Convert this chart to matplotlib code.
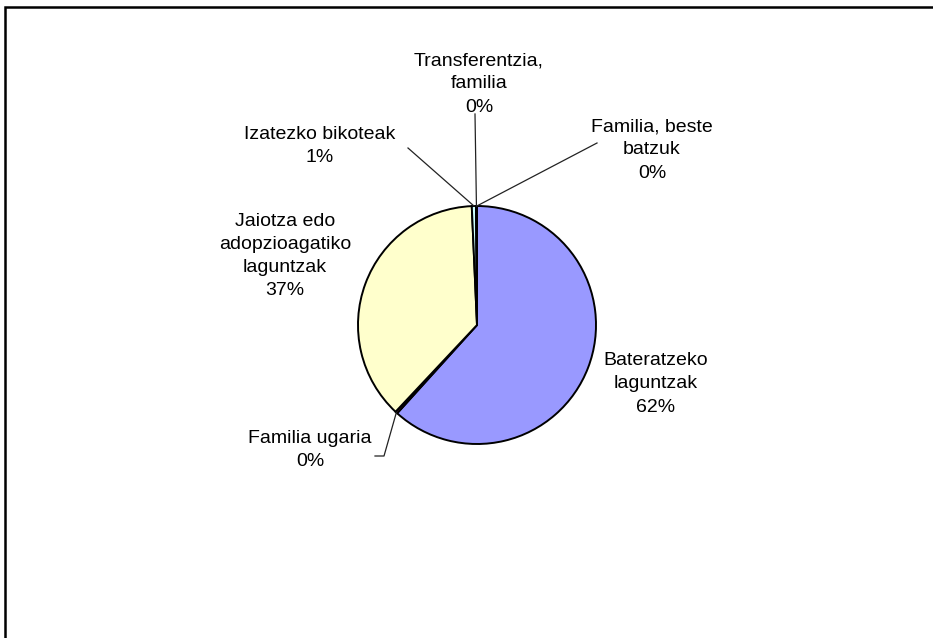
import numpy as np
import matplotlib
matplotlib.use("Agg")
import matplotlib.pyplot as plt
from matplotlib.patches import Rectangle

categories = ["Bateratzeko\nlaguntzak", "Familia ugaria", "Jaiotza edo\nadopzioagatiko\nlaguntzak",
              "Izatezko bikoteak", "Transferentzia,\nfamilia", "Familia, beste\nbatzuk"]
values = [61.7, 0.3, 37.3, 0.6, 0.05, 0.05]
colors = ["#9999FF", "#993366", "#FFFFCC", "#CCFFFF", "#660066", "#FF8080"]

plt.rcParams['font.family'] = ['Liberation Sans', 'DejaVu Sans']

W, H = 933, 638
fig = plt.figure(figsize=(W / 100, H / 100), dpi=100)
fig.patch.set_facecolor("white")

# outer frame (cut off on right and bottom)
fig.patches.append(Rectangle((5 / W, -0.1), 1.2, 1.1 - 7 / H, transform=fig.transFigure,
                             fill=False, edgecolor="black", linewidth=1.8))

cx, cy, R = 477, 325, 119
ax = fig.add_axes([(cx - R) / W, (H - cy - R) / H, 2 * R / W, 2 * R / H])
ax.axis("off")

wedges, _ = ax.pie(values, colors=colors, startangle=90, counterclock=False, radius=1,
                   wedgeprops=dict(edgecolor="black", linewidth=1.4))
ax.set_xlim(-1, 1)
ax.set_ylim(-1, 1)

def px(x, y):
    return ((x - cx) / R, (cy - y) / R)

total = sum(values)
pcts = ["%d%%" % round(v / total * 100) for v in values]

layout = [
    ((656, 384), None),
    ((310, 450), [(375, 456), (384, 456)]),
    ((285, 256), None),
    ((320, 146), [(408, 148)]),
    ((479, 84), [(475, 114)]),
    ((652, 150), [(597, 143)]),
]

for w, cat, pct, (ctr, leader) in zip(wedges, categories, pcts, layout):
    tx, ty = px(*ctr)
    ax.text(tx, ty, cat + "\n" + pct, ha="center", va="center", fontsize=14,
            linespacing=1.48, color="black", clip_on=False)
    if leader is not None:
        mid = np.deg2rad((w.theta1 + w.theta2) / 2)
        ex, ey = np.cos(mid), np.sin(mid)
        pts = [px(*p) for p in leader] + [(ex, ey)]
        ax.plot([p[0] for p in pts], [p[1] for p in pts], color="#222222", linewidth=0.9,
                clip_on=False)

fig.savefig("out.png", dpi=100)
